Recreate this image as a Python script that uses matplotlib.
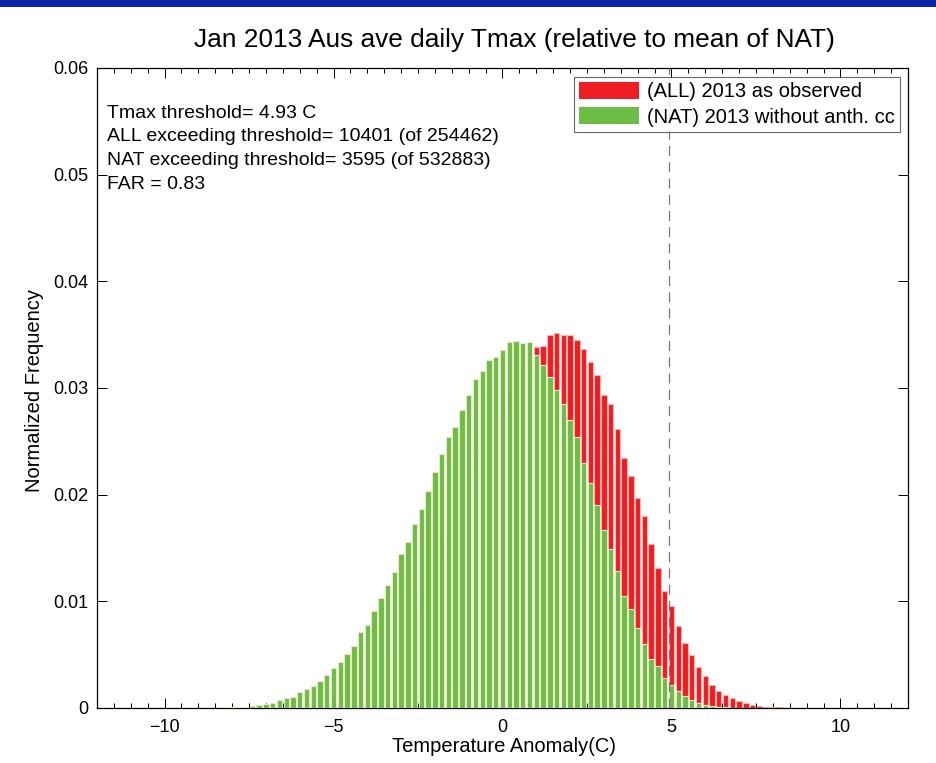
import numpy as np
import matplotlib
matplotlib.use("Agg")
import matplotlib.pyplot as plt
from matplotlib.ticker import MultipleLocator
from matplotlib.patches import Rectangle

plt.rcParams['font.family'] = ['Liberation Sans', 'DejaVu Sans']

# bin centres (C) and normalized frequencies
bin_centers = [round(-8.0 + 0.2 * i, 1) for i in range(86)]  # -8.0 .. 9.0

nat_values = [
    0.00005, 0.00008, 0.00013, 0.00019, 0.00028, 0.00040, 0.00050, 0.00072, 0.00091, 0.00106,  # -8.0 .. -6.2
    0.00147, 0.00178, 0.00209, 0.00253, 0.00306, 0.00372, 0.00431, 0.00509, 0.00581, 0.00712,  # -6.0 .. -4.2
    0.00778, 0.00909, 0.01028, 0.01150, 0.01272, 0.01447, 0.01553, 0.01728, 0.01863, 0.02030,  # -4.0 .. -2.2
    0.02210, 0.02384, 0.02537, 0.02631, 0.02797, 0.02937, 0.03084, 0.03156, 0.03266, 0.03294,  # -2.0 .. -0.2
    0.03353, 0.03428, 0.03441, 0.03425, 0.03431, 0.03309, 0.03212, 0.03106, 0.02981, 0.02853,  # 0.0 .. 1.8
    0.02700, 0.02537, 0.02300, 0.02106, 0.01900, 0.01669, 0.01488, 0.01281, 0.01047, 0.00928,  # 2.0 .. 3.8
    0.00747, 0.00603, 0.00456, 0.00391, 0.00278, 0.00215, 0.00160, 0.00115, 0.00075, 0.00050,  # 4.0 .. 5.8
    0.00025, 0.00020, 0.00010, 0.00005, 0.00003, 0.00002, 0.0, 0.0, 0.0, 0.0,                  # 6.0 .. 7.8
    0.0, 0.0, 0.0, 0.0, 0.0, 0.0,                                                              # 8.0 .. 9.0
]

all_values = [
    0.0, 0.0, 0.0, 0.0, 0.0, 0.0, 0.00005, 0.00008, 0.00013, 0.00019,                        # -8.0 .. -6.2
    0.00028, 0.00040, 0.00050, 0.00072, 0.00091, 0.00106, 0.00147, 0.00178, 0.00209, 0.00253,  # -6.0 .. -4.2
    0.00306, 0.00372, 0.00431, 0.00509, 0.00581, 0.00712, 0.00778, 0.00909, 0.01028, 0.01150,  # -4.0 .. -2.2
    0.01272, 0.01447, 0.01553, 0.01728, 0.01860, 0.02030, 0.02210, 0.02380, 0.02540, 0.02630,  # -2.0 .. -0.2
    0.02800, 0.02940, 0.03080, 0.03160, 0.03270, 0.03384, 0.03394, 0.03494, 0.03516, 0.03497,  # 0.0 .. 1.8
    0.03500, 0.03450, 0.03370, 0.03244, 0.03119, 0.02937, 0.02847, 0.02619, 0.02344, 0.02172,  # 2.0 .. 3.8
    0.01966, 0.01797, 0.01540, 0.01310, 0.01097, 0.00959, 0.00769, 0.00612, 0.00497, 0.00381,  # 4.0 .. 5.8
    0.00296, 0.00220, 0.00155, 0.00120, 0.00094, 0.00063, 0.00045, 0.00028, 0.00019, 0.00013,  # 6.0 .. 7.8
    0.00010, 0.00006, 0.00004, 0.00003, 0.00002, 0.00001,                                      # 8.0 .. 9.0
]

threshold = 4.93
title = "Jan 2013 Aus ave daily Tmax (relative to mean of NAT)"
info_lines = [
    "Tmax threshold= 4.93 C",
    "ALL exceeding threshold= 10401 (of 254462)",
    "NAT exceeding threshold= 3595 (of 532883)",
    "FAR = 0.83",
]
legend_labels = ["(ALL) 2013 as observed", "(NAT) 2013 without anth. cc"]

RED = '#ee1d24'
GREEN = '#6cbd45'

fig = plt.figure(figsize=(9.37, 7.63), dpi=100)
fig.patches.append(Rectangle((0, 1 - 7 / 763), 1, 7 / 763, transform=fig.transFigure,
                             facecolor='#0a22a3', edgecolor='none', zorder=0))

ax = fig.add_axes([97 / 937, 1 - 708 / 763, (908 - 97) / 937, (708 - 68) / 763])

bw = 0.2 * 0.8
ax.bar(bin_centers, all_values, width=bw, color=RED, edgecolor='#f7b7b0', linewidth=0.8,
       label=legend_labels[0], zorder=2)
ax.bar(bin_centers, nat_values, width=bw, color=GREEN, edgecolor='#eee6c8', linewidth=0.8,
       label=legend_labels[1], zorder=3)

ax.plot([threshold, threshold], [0, 0.06], color='#777777', linestyle=(0, (8, 5)), linewidth=0.9, zorder=4)

ax.set_xlim(-12, 12)
ax.set_ylim(0, 0.06)
ax.xaxis.set_major_locator(MultipleLocator(5))
ax.xaxis.set_minor_locator(MultipleLocator(0.5))
ax.set_yticks([0, 0.01, 0.02, 0.03, 0.04, 0.05, 0.06])
ax.set_yticklabels(['0', '0.01', '0.02', '0.03', '0.04', '0.05', '0.06'])
ax.set_xticks([-10, -5, 0, 5, 10])
ax.set_xticklabels(['\u221210', '\u22125', '0', '5', '10'])
ax.tick_params(which='both', direction='in', top=True, right=True, labelsize=13)
ax.tick_params(axis='x', pad=8)
ax.tick_params(axis='y', pad=6)
ax.tick_params(which='major', length=7.5, width=0.7)
ax.tick_params(which='minor', length=3.5, width=0.7)
for s in ax.spines.values():
    s.set_linewidth(0.9)

ax.set_xlabel("Temperature Anomaly(C)", fontsize=14.5, va='center')
ax.xaxis.set_label_coords((504 - 97) / 811, -(747 - 708) / 640)
ax.set_ylabel("Normalized Frequency", fontsize=14.5, va='center')
ax.yaxis.set_label_coords((35 - 97) / 811, (708 - 390) / 640)

fig.text(514 / 937, 1 - 40 / 763, title, ha='center', va='center', fontsize=18.9)

for i, line in enumerate(info_lines):
    ax.text(107 / 937, 1 - (113 + 23.7 * i) / 763, line, transform=fig.transFigure,
            ha='left', va='center', fontsize=14)

leg = ax.legend(loc='upper right', bbox_to_anchor=(1 - 8 / 811, 1 - 9 / 640), fontsize=14.5,
                frameon=True, fancybox=False, edgecolor='#444444', handlelength=3.0, handleheight=0.9,
                borderpad=0.25, labelspacing=0.3, handletextpad=0.4, borderaxespad=0)
leg.get_frame().set_linewidth(0.8)
for h in leg.legend_handles:
    h.set_edgecolor('none')

fig.savefig("out.png", dpi=100)
